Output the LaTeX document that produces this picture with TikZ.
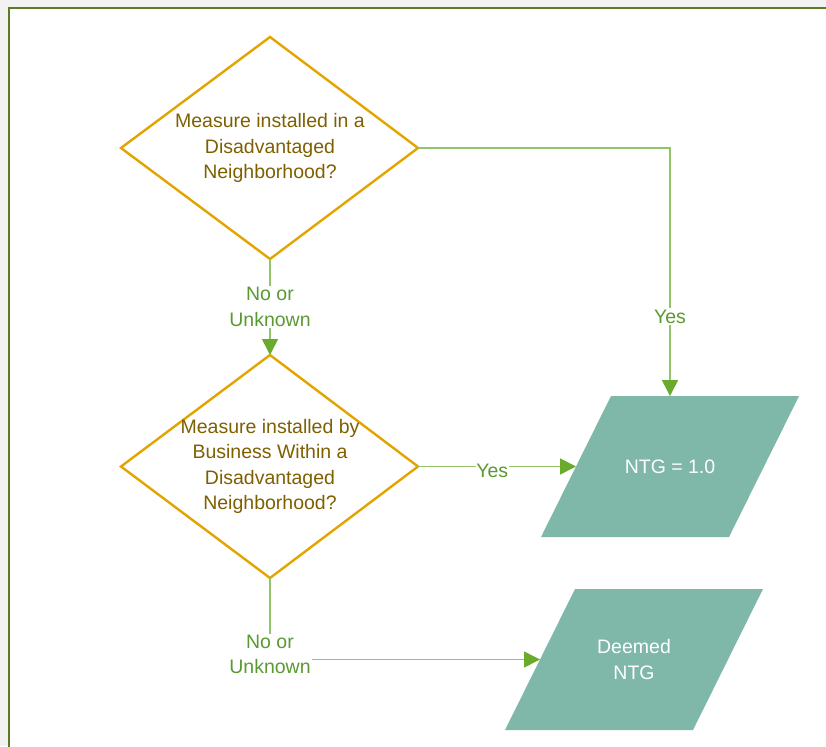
\documentclass[tikz,border=0pt]{standalone}
\usepackage{fontspec}
\setmainfont{Liberation Sans}
\usetikzlibrary{arrows.meta}
\definecolor{bgc}{HTML}{F2F2F2}
\definecolor{framec}{HTML}{5B7A22}
\definecolor{goldc}{HTML}{E2A500}
\definecolor{qtext}{HTML}{7F6000}
\definecolor{linec}{HTML}{92C46A}
\definecolor{arrowc}{HTML}{6AAB2E}
\definecolor{labelc}{HTML}{5A9A32}
\definecolor{tealc}{HTML}{7FB7A9}
\tikzset{
  qline/.style={draw=goldc, line width=2.4pt, line join=miter},
  qtxt/.style={text=qtext, align=center, inner sep=0pt, font=\fontsize{19.5}{25.3}\selectfont},
  rfill/.style={fill=tealc},
  rtxt/.style={text=white, align=center, inner sep=0pt, font=\fontsize{19.5}{25.3}\selectfont},
  conn/.style={draw=linec, line width=1.6pt, -{Triangle[length=16pt,width=16pt,color=arrowc]}},
  lbl/.style={fill=white, text=labelc, align=center, inner sep=1.5pt, font=\fontsize{19.5}{25.3}\selectfont},
}
\begin{document}
\begin{tikzpicture}[x=1pt,y=-1pt]
\useasboundingbox (0,0) rectangle (826,746);
\fill[bgc] (0,0) rectangle (826,746);
\begin{scope}
\clip (0,0) rectangle (826,746);
\draw[framec, line width=2.8pt, fill=white] (9,8) rectangle (840,760);
\end{scope}
% decision 1
\coordinate (d1n) at (270,37);
\coordinate (d1e) at (418,148);
\coordinate (d1s) at (270,259);
\coordinate (d1w) at (121,148);
\draw[qline] (d1n) -- (d1e) -- (d1s) -- (d1w) -- cycle;
\node[qtxt] (d1) at (270,148) {Measure installed in a\\Disadvantaged\\Neighborhood?};
% decision 2
\coordinate (d2n) at (270,355);
\coordinate (d2e) at (418,466.5);
\coordinate (d2s) at (270,578);
\coordinate (d2w) at (121,466.5);
\draw[qline] (d2n) -- (d2e) -- (d2s) -- (d2w) -- cycle;
\node[qtxt] (d2) at (270,466.5) {Measure installed by\\Business Within a\\Disadvantaged\\Neighborhood?};
% result 1
\coordinate (r1n) at (670,396);
\coordinate (r1w) at (576,466.5);
\fill[rfill] (611,396) -- (799,396) -- (729,537) -- (541,537) -- cycle;
\node[rtxt] (ntg) at (670,466.5) {NTG = 1.0};
% result 2
\coordinate (r2w) at (540,659.5);
\fill[rfill] (575,589) -- (763,589) -- (693,730) -- (505,730) -- cycle;
\node[rtxt] (deemed) at (634,659.5) {Deemed\\NTG};
% connectors
\draw[conn] (d1e) -| node[lbl, pos=0.84] (y1) {Yes} (r1n);
\draw[conn] (d1s) -- node[lbl, pos=0.5] (n1) {No or\\Unknown} (d2n);
\draw[conn] (d2e) -- node[lbl, pos=0.47, yshift=-4pt, inner sep=0.5pt] (y2) {Yes} (r1w);
\draw[conn] (d2s) |- node[lbl, pos=0.5, yshift=5pt] (n2) {No or\\Unknown} (r2w);
\end{tikzpicture}
\end{document}
